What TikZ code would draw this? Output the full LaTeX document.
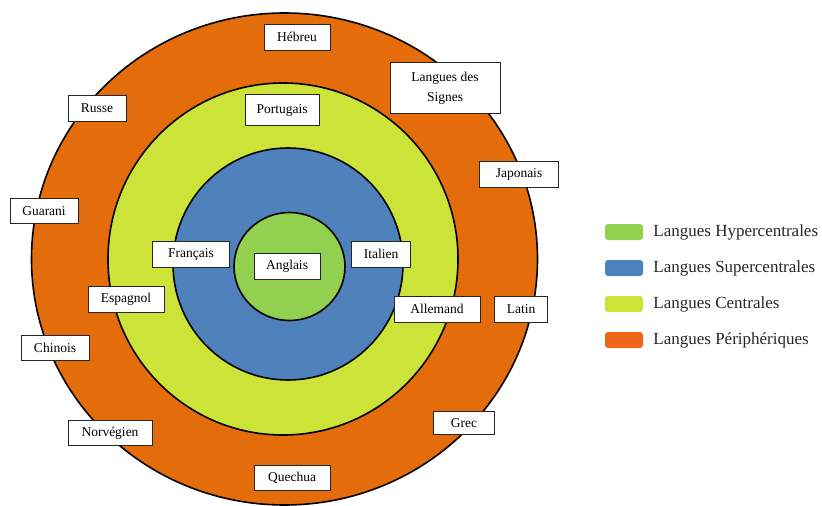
\documentclass[tikz,border=0pt]{standalone}
\usepackage{fontspec}
\setmainfont{Liberation Serif}
\usetikzlibrary{positioning}

\definecolor{periph}{RGB}{228,108,10}
\definecolor{central}{RGB}{204,227,56}
\definecolor{superc}{RGB}{79,129,189}
\definecolor{hyperc}{RGB}{146,208,80}
\definecolor{legperiph}{RGB}{240,102,24}

\tikzset{
    ring/.style={draw=black, line width=1.6pt},
    langbox/.style={shape=rectangle, draw=black!85, line width=0.8pt, fill=white,
        align=center, inner sep=0pt, text=black,
        font=\fontsize{13.5}{20}\selectfont},
    legswatch/.style={shape=rectangle, rounded corners=3pt, inner sep=0pt,
        minimum width=38, minimum height=16},
    legtext/.style={anchor=west, inner sep=0pt, text=black!85,
        font=\fontsize{17}{18}\selectfont}
}

\begin{document}
\begin{tikzpicture}[x=1pt, y=-1pt]

    \useasboundingbox (0,0) rectangle (822,506);

    % rings
    \draw[ring, fill=periph] (284.5,259) ellipse [x radius=253, y radius=246];
    \draw[ring, fill=central] (283,259) ellipse [x radius=175, y radius=176];
    \draw[ring, fill=superc] (288,264) ellipse [x radius=115, y radius=116];
    \draw[ring, fill=hyperc] (289.5,266.5) ellipse [x radius=55.5, y radius=54];

    % languages
    \node[langbox, minimum width=66, minimum height=26] (Hebreu) at (297,37) {Hébreu};
    \node[langbox, minimum width=110, minimum height=51] (Signes) at (445,88) {Langues des\\Signes};
    \node[langbox, minimum width=58, minimum height=26] (Russe) at (97,108) {Russe};
    \node[langbox, minimum width=74, minimum height=31] (Portugais) at (282,110) {Portugais};
    \node[langbox, minimum width=79, minimum height=26] (Japonais) at (519,174) {Japonais};
    \node[langbox, minimum width=68, minimum height=25] (Guarani) at (44,211) {Guarani};
    \node[langbox, minimum width=77, minimum height=26] (Francais) at (191,254) {Français};
    \node[langbox, minimum width=66, minimum height=26] (Anglais) at (287,266) {Anglais};
    \node[langbox, minimum width=59, minimum height=26] (Italien) at (381,254) {Italien};
    \node[langbox, minimum width=76, minimum height=26] (Espagnol) at (126,299) {Espagnol};
    \node[langbox, minimum width=86, minimum height=26] (Allemand) at (437,309) {Allemand};
    \node[langbox, minimum width=53, minimum height=26] (Latin) at (521,309) {Latin};
    \node[langbox, minimum width=68, minimum height=25] (Chinois) at (55,348) {Chinois};
    \node[langbox, minimum width=61, minimum height=23] (Grec) at (464,423) {Grec};
    \node[langbox, minimum width=84, minimum height=25] (Norvegien) at (110,433) {Norvégien};
    \node[langbox, minimum width=76, minimum height=25] (Quechua) at (292,478) {Quechua};

    % legend
    \node[legswatch, fill=hyperc] (swHyper) at (624,232) {};
    \node[legswatch, fill=superc] (swSuper) at (624,268) {};
    \node[legswatch, fill=central] (swCentral) at (624,304) {};
    \node[legswatch, fill=legperiph] (swPeriph) at (624,340) {};

    \node[legtext, right=10pt of swHyper] (lgHyper) {Langues Hypercentrales};
    \node[legtext, right=10pt of swSuper] (lgSuper) {Langues Supercentrales};
    \node[legtext, right=10pt of swCentral] (lgCentral) {Langues Centrales};
    \node[legtext, right=10pt of swPeriph] (lgPeriph) {Langues Périphériques};

\end{tikzpicture}
\end{document}
